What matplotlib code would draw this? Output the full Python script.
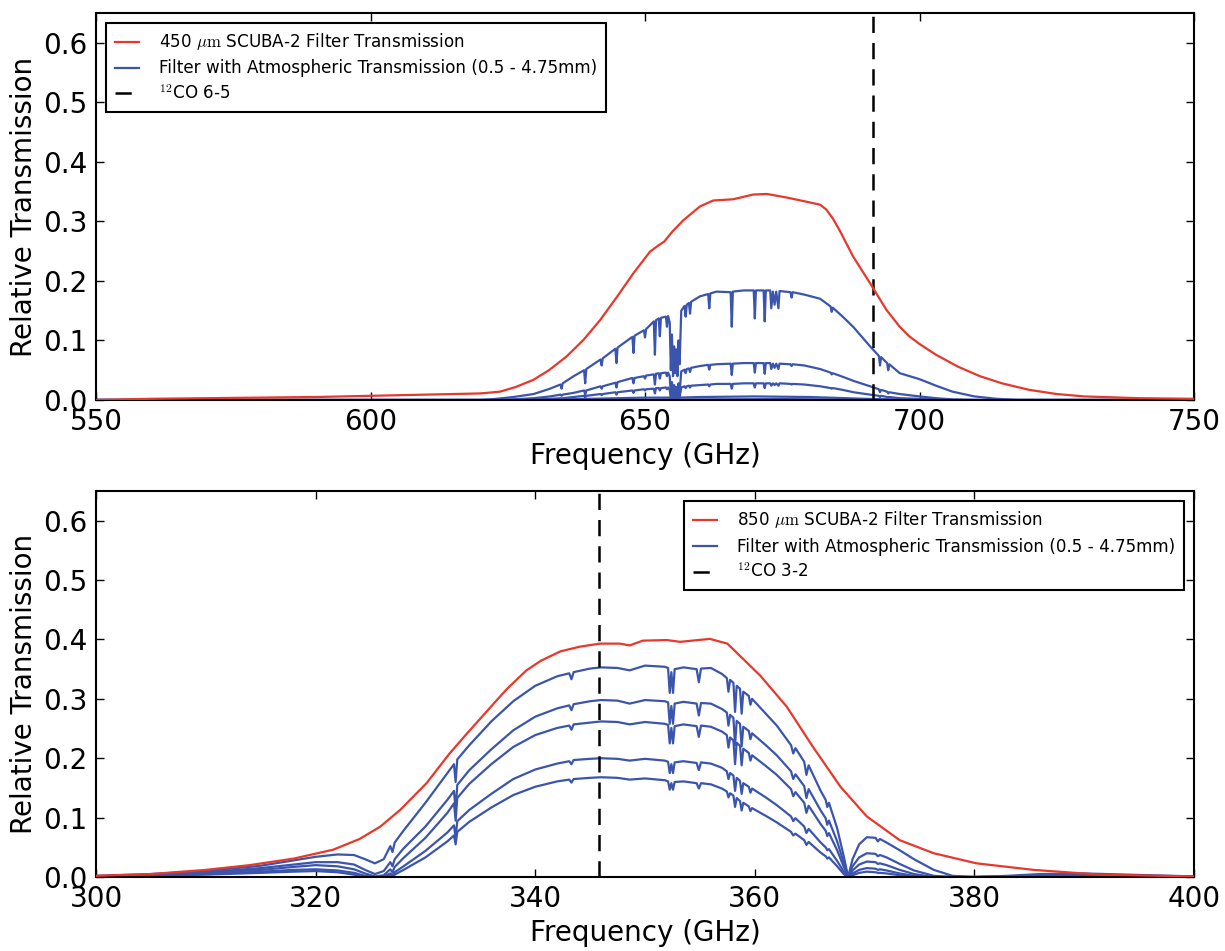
import matplotlib
matplotlib.use("Agg")
import matplotlib.pyplot as plt

plt.rcParams["font.family"] = "DejaVu Sans"
plt.rcParams["mathtext.fontset"] = "cm"

# ---------------- 450 um panel ----------------
f450_red = [550, 560, 570, 580, 590, 600, 605, 610, 615, 620,
            623.6, 626.5, 629.7, 632.5, 635.7, 638.8, 641.8, 644.8, 647.9, 650.9,
            652.5, 653.5, 655, 657, 660, 662.4, 666, 669.7, 672.2, 675.8,
            679.4, 681.9, 683, 684.2, 685.5, 687.9, 691, 694, 696.4, 698,
            700, 703, 707, 711, 715, 720, 725, 730, 740, 750]
red450 = [0.000, 0.002, 0.003, 0.004, 0.005, 0.007, 0.008, 0.009, 0.010, 0.011,
          0.014, 0.022, 0.034, 0.050, 0.073, 0.101, 0.134, 0.172, 0.213, 0.249,
          0.260, 0.266, 0.283, 0.302, 0.325, 0.335, 0.337, 0.345, 0.346, 0.340,
          0.333, 0.328, 0.320, 0.305, 0.284, 0.241, 0.196, 0.151, 0.123, 0.108,
          0.094, 0.076, 0.056, 0.040, 0.028, 0.017, 0.010, 0.006, 0.003, 0.002]

# filter x atmosphere, shared frequency grid (includes absorption lines)
f450_atm = [550, 600, 620, 623, 626, 629.7, 632.7,
            634.6, 634.8, 635.0, 637, 638.9, 639.1, 639.3,
            641.9, 642.1, 642.3, 644.6, 644.8, 645.0,
            647.7, 647.9, 648.1, 649.8, 650.0, 650.2,
            651.6, 651.8, 652.0, 652.5, 652.7, 652.9,
            653.8, 654.0, 654.2, 654.5, 654.7, 654.9, 655.1,
            655.3, 655.5, 655.7, 655.9, 656.1, 656.3, 656.6,
            657.2, 657.4, 657.6, 658.0, 658.2, 658.4,
            660.0, 661.5, 661.7, 661.9, 663,
            665.6, 665.8, 666.0, 668,
            669.8, 670.0, 670.2, 671.6, 671.8, 672.0,
            672.8, 673.0, 673.3, 673.6, 673.9, 674.3, 674.5,
            676.5, 676.7, 676.9, 679, 681.9,
            683.8, 684.0, 684.2, 686, 688, 691,
            692.6, 692.8, 693.0, 694.1, 694.3, 694.5, 696.4,
            700, 703, 706, 710, 714, 718, 750]
atm450_1 = [0, 0, 0, 0.002, 0.005, 0.010, 0.019,
            0.026, 0.019, 0.028, 0.040, 0.050, 0.028, 0.052,
            0.068, 0.058, 0.070, 0.086, 0.062, 0.088,
            0.106, 0.079, 0.108, 0.117, 0.105, 0.119,
            0.132, 0.076, 0.134, 0.137, 0.107, 0.138,
            0.140, 0.123, 0.141, 0.130, 0.050, 0.110, 0.040,
            0.090, 0.045, 0.085, 0.040, 0.100, 0.060, 0.150,
            0.158, 0.140, 0.160, 0.163, 0.145, 0.165,
            0.174, 0.178, 0.154, 0.179, 0.182,
            0.181, 0.123, 0.182, 0.184,
            0.184, 0.137, 0.184, 0.184, 0.132, 0.184,
            0.184, 0.154, 0.182, 0.160, 0.182, 0.154, 0.183,
            0.181, 0.172, 0.181, 0.177, 0.170,
            0.157, 0.148, 0.155, 0.140, 0.122, 0.090,
            0.074, 0.058, 0.072, 0.062, 0.050, 0.060, 0.045,
            0.035, 0.024, 0.014, 0.006, 0.002, 0, 0]
atm450_2 = [0, 0, 0, 0, 0.001, 0.003, 0.006,
            0.009, 0.007, 0.009, 0.012, 0.016, 0.009, 0.016,
            0.023, 0.019, 0.023, 0.029, 0.021, 0.030,
            0.037, 0.028, 0.037, 0.040, 0.036, 0.041,
            0.043, 0.026, 0.044, 0.045, 0.036, 0.045,
            0.046, 0.040, 0.046, 0.040, 0.010, 0.030, 0.008,
            0.025, 0.008, 0.022, 0.008, 0.028, 0.012, 0.048,
            0.051, 0.045, 0.052, 0.053, 0.047, 0.054,
            0.057, 0.059, 0.051, 0.059, 0.060,
            0.061, 0.042, 0.061, 0.062,
            0.062, 0.046, 0.062, 0.062, 0.044, 0.062,
            0.062, 0.052, 0.061, 0.054, 0.061, 0.052, 0.061,
            0.060, 0.057, 0.060, 0.058, 0.052,
            0.046, 0.043, 0.045, 0.039, 0.032, 0.023,
            0.018, 0.013, 0.017, 0.014, 0.011, 0.013, 0.010,
            0.006, 0.003, 0.001, 0, 0, 0, 0]
atm450_3 = [0, 0, 0, 0, 0, 0.001, 0.002,
            0.003, 0.002, 0.003, 0.005, 0.007, 0.004, 0.007,
            0.010, 0.008, 0.010, 0.013, 0.009, 0.013,
            0.016, 0.012, 0.016, 0.018, 0.016, 0.018,
            0.019, 0.011, 0.020, 0.020, 0.016, 0.020,
            0.021, 0.018, 0.021, 0.017, 0.003, 0.012, 0.002,
            0.010, 0.002, 0.009, 0.002, 0.011, 0.004, 0.021,
            0.023, 0.020, 0.023, 0.024, 0.021, 0.024,
            0.025, 0.026, 0.023, 0.026, 0.027,
            0.027, 0.019, 0.027, 0.028,
            0.028, 0.021, 0.028, 0.028, 0.020, 0.028,
            0.028, 0.024, 0.028, 0.025, 0.028, 0.024, 0.028,
            0.027, 0.026, 0.027, 0.026, 0.023,
            0.020, 0.019, 0.020, 0.017, 0.013, 0.009,
            0.007, 0.005, 0.007, 0.005, 0.004, 0.005, 0.003,
            0.002, 0.001, 0, 0, 0, 0, 0]
f450_atm4 = [550, 630, 640, 650, 654.5, 655.2, 656.2, 660, 670, 680, 690, 700, 750]
atm450_4 = [0, 0, 0.002, 0.004, 0.004, 0.0, 0.004, 0.005, 0.006, 0.005, 0.002, 0, 0]
f450_atm5 = [550, 640, 660, 675, 690, 700, 750]
atm450_5 = [0, 0, 0.001, 0.0015, 0.0005, 0, 0]

co65 = 691.47

# ---------------- 850 um panel ----------------
f850_red = [300, 305, 310, 314, 318, 321.6, 324, 325.9, 327.7, 330.1,
            332.2, 333.8, 336.8, 337.5, 339.2, 340.5, 342.3, 344.1, 345.9, 347.7,
            348.6, 349.8, 352.0, 353.2, 355.9, 357.5, 360.5, 362.9, 365.3, 367.8,
            370.2, 373.2, 376.3, 380.2, 385.4, 391.4, 400]
red850 = [0.002, 0.005, 0.012, 0.020, 0.031, 0.046, 0.064, 0.085, 0.113, 0.158,
          0.208, 0.242, 0.304, 0.318, 0.348, 0.364, 0.380, 0.388, 0.393, 0.393,
          0.390, 0.398, 0.399, 0.396, 0.401, 0.393, 0.339, 0.287, 0.219, 0.152,
          0.102, 0.062, 0.040, 0.023, 0.012, 0.004, 0.001]

f850_atm = [300, 305, 310, 315, 318, 320, 322,
            323.5, 324.5, 325.4, 326.2, 326.8, 327.0, 327.2, 328,
            330, 332.0, 332.6, 332.75, 332.9, 334,
            336, 338, 340, 342, 343.1, 343.3, 343.5,
            345, 346, 347.5, 348.6, 350, 351.8,
            352.1, 352.25, 352.4, 352.55, 352.7, 353.5,
            354.7, 354.9, 355.1, 356, 357, 357.45, 357.6, 357.75,
            358.05, 358.2, 358.35, 358.65, 358.8, 358.95,
            359.45, 359.6, 359.75, 361, 362,
            363.3, 363.5, 363.7, 364.5, 364.7, 364.9,
            366, 366.45, 366.6, 366.75, 367.5, 368.1, 368.5,
            368.9, 369.5, 370.2, 371.0, 371.2, 371.4, 372,
            373.2, 374.5, 376.3, 378, 380, 383, 386, 390, 394, 400]
atm850_1 = [0.002, 0.005, 0.010, 0.019, 0.028, 0.034, 0.038,
            0.037, 0.030, 0.023, 0.030, 0.052, 0.042, 0.058, 0.078,
            0.125, 0.175, 0.190, 0.160, 0.198, 0.222,
            0.262, 0.296, 0.322, 0.338, 0.343, 0.333, 0.345,
            0.351, 0.353, 0.352, 0.348, 0.356, 0.354,
            0.352, 0.310, 0.345, 0.310, 0.350, 0.353,
            0.350, 0.328, 0.351, 0.352, 0.342, 0.335, 0.312, 0.332,
            0.327, 0.278, 0.322, 0.317, 0.275, 0.312,
            0.305, 0.290, 0.300, 0.275, 0.255,
            0.222, 0.208, 0.217, 0.194, 0.172, 0.188,
            0.145, 0.130, 0.118, 0.125, 0.082, 0.035, 0.000,
            0.030, 0.055, 0.067, 0.066, 0.060, 0.064, 0.058,
            0.045, 0.030, 0.012, 0.002, 0.000, 0.002, 0.005, 0.006, 0.004, 0.001]
atm850_2 = [0.001, 0.004, 0.008, 0.015, 0.021, 0.025, 0.025,
            0.021, 0.012, 0.005, 0.010, 0.025, 0.018, 0.030, 0.048,
            0.085, 0.130, 0.145, 0.113, 0.155, 0.180,
            0.215, 0.247, 0.270, 0.284, 0.289, 0.281, 0.291,
            0.296, 0.298, 0.297, 0.292, 0.298, 0.296,
            0.294, 0.258, 0.288, 0.258, 0.292, 0.295,
            0.292, 0.272, 0.293, 0.292, 0.283, 0.277, 0.255, 0.273,
            0.268, 0.222, 0.263, 0.258, 0.220, 0.253,
            0.246, 0.232, 0.242, 0.222, 0.205,
            0.178, 0.165, 0.173, 0.153, 0.133, 0.148,
            0.112, 0.099, 0.088, 0.095, 0.060, 0.024, 0.000,
            0.018, 0.033, 0.040, 0.039, 0.035, 0.037, 0.033,
            0.022, 0.011, 0.002, 0.000, 0.000, 0.001, 0.003, 0.004, 0.002, 0.001]
atm850_3 = [0.001, 0.003, 0.007, 0.012, 0.017, 0.020, 0.018,
            0.013, 0.006, 0.001, 0.003, 0.013, 0.008, 0.017, 0.032,
            0.066, 0.108, 0.124, 0.095, 0.133, 0.157,
            0.190, 0.219, 0.239, 0.251, 0.255, 0.248, 0.257,
            0.260, 0.262, 0.261, 0.257, 0.261, 0.258,
            0.256, 0.225, 0.251, 0.225, 0.254, 0.257,
            0.254, 0.236, 0.255, 0.253, 0.245, 0.239, 0.218, 0.235,
            0.230, 0.190, 0.226, 0.221, 0.188, 0.216,
            0.209, 0.196, 0.205, 0.187, 0.172,
            0.148, 0.136, 0.143, 0.125, 0.108, 0.120,
            0.089, 0.078, 0.069, 0.074, 0.045, 0.017, 0.000,
            0.011, 0.021, 0.026, 0.025, 0.022, 0.023, 0.020,
            0.012, 0.005, 0.000, 0.000, 0.000, 0.001, 0.002, 0.003, 0.002, 0.000]
atm850_4 = [0.001, 0.002, 0.005, 0.009, 0.012, 0.013, 0.011,
            0.007, 0.002, 0.000, 0.001, 0.006, 0.003, 0.008, 0.018,
            0.044, 0.075, 0.087, 0.066, 0.094, 0.113,
            0.140, 0.165, 0.181, 0.191, 0.195, 0.190, 0.197,
            0.199, 0.200, 0.199, 0.196, 0.199, 0.196,
            0.194, 0.175, 0.190, 0.175, 0.193, 0.195,
            0.192, 0.180, 0.193, 0.191, 0.184, 0.178, 0.165, 0.175,
            0.171, 0.145, 0.167, 0.162, 0.140, 0.158,
            0.152, 0.142, 0.149, 0.134, 0.121,
            0.102, 0.094, 0.099, 0.085, 0.074, 0.081,
            0.058, 0.050, 0.045, 0.047, 0.027, 0.009, 0.000,
            0.006, 0.012, 0.015, 0.014, 0.012, 0.013, 0.011,
            0.006, 0.002, 0.000, 0.000, 0.000, 0.000, 0.001, 0.002, 0.001, 0.000]
atm850_5 = [0.000, 0.002, 0.004, 0.007, 0.009, 0.010, 0.008,
            0.004, 0.001, 0.000, 0.000, 0.003, 0.001, 0.004, 0.012,
            0.033, 0.060, 0.070, 0.055, 0.076, 0.093,
            0.117, 0.138, 0.152, 0.161, 0.164, 0.159, 0.165,
            0.167, 0.168, 0.167, 0.164, 0.166, 0.163,
            0.161, 0.147, 0.158, 0.147, 0.160, 0.161,
            0.158, 0.149, 0.158, 0.156, 0.149, 0.144, 0.134, 0.141,
            0.137, 0.118, 0.133, 0.128, 0.112, 0.125,
            0.119, 0.111, 0.116, 0.103, 0.092,
            0.076, 0.070, 0.073, 0.062, 0.054, 0.059,
            0.041, 0.035, 0.031, 0.033, 0.018, 0.005, 0.000,
            0.003, 0.007, 0.009, 0.008, 0.007, 0.007, 0.006,
            0.003, 0.001, 0.000, 0.000, 0.000, 0.000, 0.000, 0.001, 0.000, 0.000]

co32 = 345.80

RED = "#e8372b"
BLUE = "#3b55ad"


def style_axes(ax, xlim, xticks):
    ax.set_xlim(*xlim)
    ax.set_ylim(0, 0.65)
    ax.set_xticks(xticks)
    ax.set_yticks([0.0, 0.1, 0.2, 0.3, 0.4, 0.5, 0.6])
    ax.tick_params(direction="in", top=True, right=True, length=6, width=1,
                   labelsize=20, pad=6)
    for s in ax.spines.values():
        s.set_linewidth(1.5)
    ax.set_xlabel("Frequency (GHz)", fontsize=20)
    ax.set_ylabel("Relative Transmission", fontsize=20)


fig = plt.figure(figsize=(12.25, 9.51), dpi=100)
ax1 = fig.add_axes([0.0784, 0.5794, 0.8963, 0.4070])
ax2 = fig.add_axes([0.0784, 0.0778, 0.8963, 0.4059])

# top panel
ax1.plot(f450_red, red450, color=RED, lw=1.6,
         label=r"450 $\mu\mathrm{m}$ SCUBA-2 Filter Transmission", zorder=3)
ax1.plot(f450_atm, atm450_1, color=BLUE, lw=1.6,
         label="Filter with Atmospheric Transmission (0.5 - 4.75mm)")
for fx, fy in [(f450_atm, atm450_2), (f450_atm, atm450_3),
               (f450_atm4, atm450_4), (f450_atm5, atm450_5)]:
    ax1.plot(fx, fy, color=BLUE, lw=1.6)
ax1.axvline(co65, color="k", ls="--", lw=1.8, dashes=(6.5, 4),
            label=r"$^{12}$CO 6-5")
style_axes(ax1, (550, 750), [550, 600, 650, 700, 750])

# bottom panel
ax2.plot(f850_red, red850, color=RED, lw=1.6,
         label=r"850 $\mu\mathrm{m}$ SCUBA-2 Filter Transmission", zorder=3)
ax2.plot(f850_atm, atm850_1, color=BLUE, lw=1.6,
         label="Filter with Atmospheric Transmission (0.5 - 4.75mm)")
for fy in [atm850_2, atm850_3, atm850_4, atm850_5]:
    ax2.plot(f850_atm, fy, color=BLUE, lw=1.6)
ax2.axvline(co32, color="k", ls="--", lw=1.8, dashes=(6.5, 4),
            label=r"$^{12}$CO 3-2")
style_axes(ax2, (300, 400), [300, 320, 340, 360, 380, 400])

for ax, loc in [(ax1, "upper left"), (ax2, "upper right")]:
    leg = ax.legend(loc=loc, fontsize=12.1, fancybox=False, framealpha=1,
                    edgecolor="black", handlelength=1.45, handletextpad=1.2,
                    borderpad=0.5, labelspacing=0.42, borderaxespad=0.6)
    leg.get_frame().set_linewidth(1.5)

fig.savefig("out.png", dpi=100)
